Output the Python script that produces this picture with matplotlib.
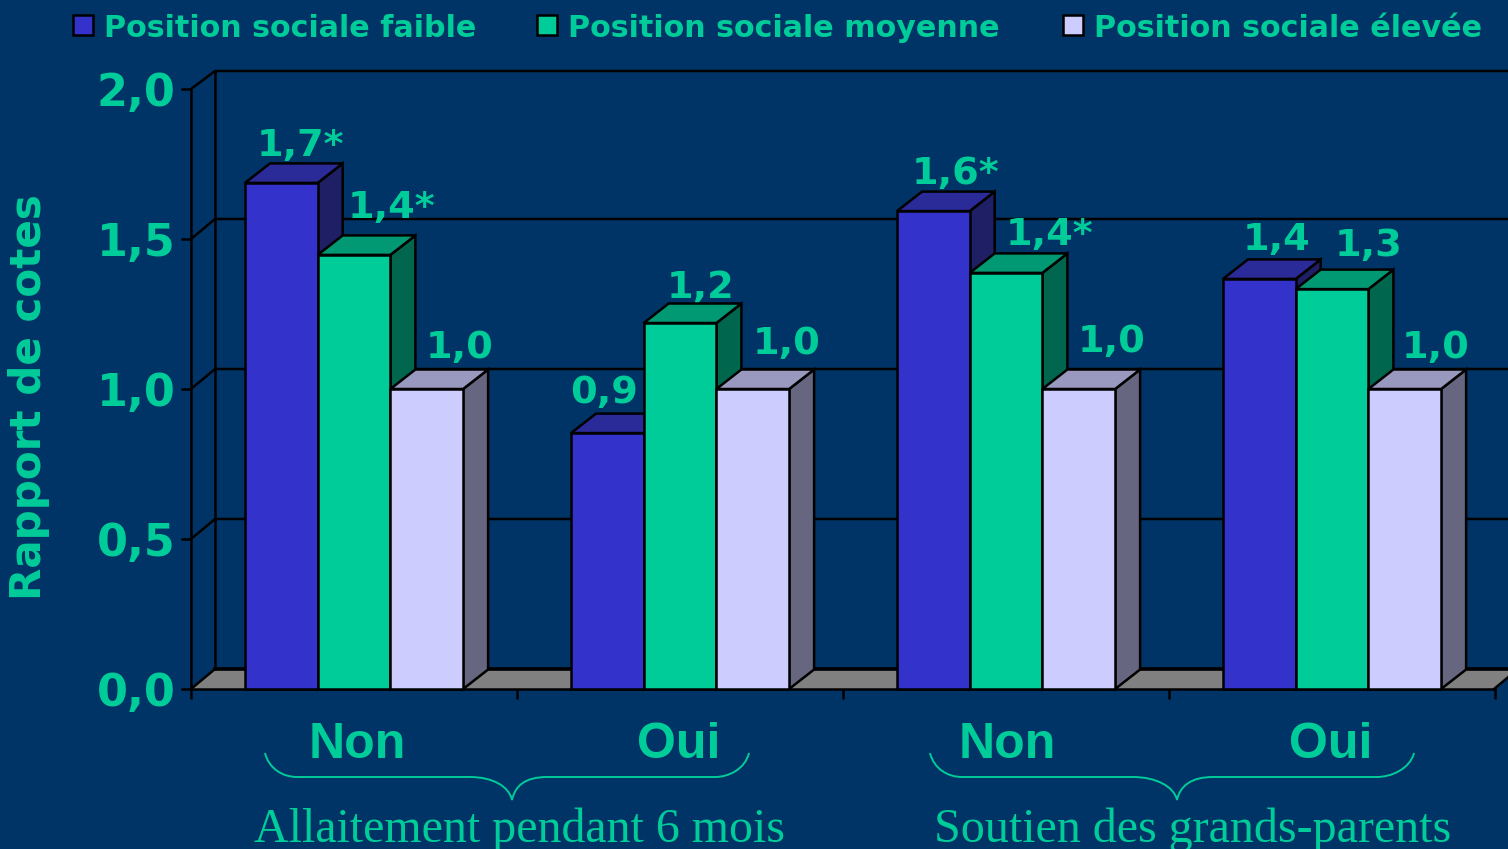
import matplotlib
matplotlib.use("Agg")
import matplotlib.pyplot as plt
import numpy as np
from matplotlib.patches import PathPatch, Polygon, Rectangle
from matplotlib.path import Path

W, H = 1508, 849
BG = "#003366"
TEAL = "#00CC99"

series_names = ["Position sociale faible", "Position sociale moyenne", "Position sociale élevée"]
groups = ["Non", "Oui", "Non", "Oui"]
faible = [1.687, 0.853, 1.593, 1.367]
moyenne = [1.447, 1.22, 1.387, 1.333]
elevee = [1.0, 1.0, 1.0, 1.0]
bar_labels = [
    ["1,7*", "0,9", "1,6*", "1,4"],
    ["1,4*", "1,2", "1,4*", "1,3"],
    ["1,0", "1,0", "1,0", "1,0"],
]
y_ticks = [0.0, 0.5, 1.0, 1.5, 2.0]
y_tick_labels = ["0,0", "0,5", "1,0", "1,5", "2,0"]

front_cols = ["#3333CC", "#00CC99", "#CCCCFF"]
top_cols = ["#2A2A99", "#009973", "#9999BF"]
side_cols = ["#1F1F66", "#00664D", "#666680"]

# label positions in pixels (centre x, baseline y)
label_pos = [
    [(300, 156), (604, 403), (956, 184), (1277, 250)],
    [(392, 218), (701, 298), (1050, 245), (1369, 256)],
    [(460, 358), (787, 354), (1112, 352), (1436, 358)],
]

PX_X = 326.0
PX_Y = 300.0
DX = 25 / PX_X
DY = 19.5 / PX_Y
BAR_W = 72.7 / PX_X
BAR_START = 54 / PX_X
LW = 1.8

fig = plt.figure(figsize=(W / 100, H / 100), dpi=100, facecolor=BG)
ax = fig.add_axes([191 / W, (H - 689) / H, 1304 / W, 600 / H])
ax.set_xlim(0, 4)
ax.set_ylim(0, 2)
ax.patch.set_alpha(0)
for s in ["top", "right"]:
    ax.spines[s].set_visible(False)
for s in ["left", "bottom"]:
    ax.spines[s].set_linewidth(LW)
    ax.spines[s].set_zorder(2)

ax.set_xticks(range(5))
ax.set_xticklabels([])
ax.set_yticks(y_ticks)
ax.set_yticklabels(y_tick_labels, family="DejaVu Sans", weight="bold", fontsize=32, color=TEAL)
ax.tick_params(axis="both", length=7, width=LW, color="black", pad=4)

# floor and back walls
wall_dx = 24 / PX_X
wall_dy = 20 / PX_Y
x_end = (W + 10 - 191) / PX_X
ax.add_patch(Polygon([(0, 0), (wall_dx, wall_dy), (x_end, wall_dy), (x_end - wall_dx, 0)],
                     facecolor="#808080", edgecolor="none", clip_on=False, zorder=1))
ax.plot([wall_dx, x_end], [wall_dy, wall_dy], color="black", lw=LW + 0.8, clip_on=False, zorder=1.5)
ax.plot([wall_dx, wall_dx], [wall_dy, 2 + 18 / PX_Y], color="black", lw=LW, clip_on=False, zorder=1.5)
ax.plot([0, wall_dx, x_end], [2, 2 + 18 / PX_Y, 2 + 18 / PX_Y], color="black", lw=LW, clip_on=False, zorder=1.5)
ax.plot([0, wall_dx], [0, wall_dy], color="black", lw=LW, clip_on=False, zorder=1.5)
ax.plot([x_end - wall_dx, x_end - wall_dx + wall_dx], [0, wall_dy], color="black", lw=LW, clip_on=False, zorder=1.5)
for v in y_ticks[1:-1]:
    ax.plot([0, wall_dx, x_end], [v, v + wall_dy, v + wall_dy], color="black", lw=LW, clip_on=False, zorder=1.5)

ov = fig.add_axes([0, 0, 1, 1])
ov.set_xlim(0, W)
ov.set_ylim(H, 0)
ov.axis("off")
ov.patch.set_alpha(0)
ov.set_zorder(3)

for j, vals in enumerate([faible, moyenne, elevee]):
    for i, v in enumerate(vals):
        x0 = i + BAR_START + j * BAR_W
        x1 = x0 + BAR_W
        ax.add_patch(Polygon([(x1, 0), (x1 + DX, DY), (x1 + DX, v + DY), (x1, v)],
                             facecolor=side_cols[j], edgecolor="black", lw=LW, clip_on=False, zorder=4 + j))
        ax.add_patch(Polygon([(x0, v), (x0 + DX, v + DY), (x1 + DX, v + DY), (x1, v)],
                             facecolor=top_cols[j], edgecolor="black", lw=LW, clip_on=False, zorder=4 + j))
        ax.bar(x0, v, BAR_W, align="edge", color=front_cols[j], edgecolor="black", lw=LW, clip_on=False, zorder=4 + j)

# value labels sit under the bars
for j in range(3):
    for i in range(4):
        px, py = label_pos[j][i]
        ax.text((px - 191) / PX_X, (689 - py) / PX_Y, bar_labels[j][i], family="DejaVu Sans", weight="bold",
                fontsize=27.5, color=TEAL, ha="center", va="baseline", zorder=3, clip_on=False)

# legend
for name, col, bx, tx, fs in zip(series_names, front_cols, [73, 537, 1063], [104, 568, 1094], [21.7, 21.7, 21.7]):
    ov.add_patch(Rectangle((bx, 15), 20, 20, facecolor=col, edgecolor="black", lw=LW))
    ov.text(tx, 37, name, family="DejaVu Sans", weight="bold", fontsize=fs, color=TEAL, ha="left", va="baseline")

ov.text(29, 397, "Rapport de cotes", family="DejaVu Sans", weight="bold", fontsize=30.3, color=TEAL,
        rotation=90, ha="center", va="center")

# category names and braces
for name, cx in zip(groups, [357, 679, 1007, 1331]):
    ov.text(cx, 758, name, family="Liberation Sans", weight="bold", fontsize=36, color=TEAL, ha="center", va="baseline")


def brace(left, mid, right, flat_l, flat_m1, flat_m2, flat_r):
    verts = [
        (left, 753), (left + 4, 769), (flat_l - 14, 777), (flat_l, 777),
        (flat_m1, 777),
        (flat_m1 + 22, 777), (mid - 3, 786), (mid, 800),
        (mid + 3, 786), (flat_m2 - 22, 777), (flat_m2, 777),
        (flat_r, 777),
        (flat_r + 14, 777), (right - 4, 769), (right, 753),
    ]
    codes = [Path.MOVETO, Path.CURVE4, Path.CURVE4, Path.CURVE4, Path.LINETO,
             Path.CURVE4, Path.CURVE4, Path.CURVE4, Path.CURVE4, Path.CURVE4, Path.CURVE4,
             Path.LINETO, Path.CURVE4, Path.CURVE4, Path.CURVE4]
    ov.add_patch(PathPatch(Path(verts, codes), facecolor="none", edgecolor=TEAL, lw=1.4))


brace(265, 512, 749, 297, 470, 547, 715)
brace(930, 1177, 1414, 962, 1133, 1213, 1377)

ov.text(520, 842, "Allaitement pendant 6 mois", family="Liberation Serif", fontsize=34.5, color=TEAL, ha="center", va="baseline")
ov.text(1193, 842, "Soutien des grands-parents", family="Liberation Serif", fontsize=34.6, color=TEAL, ha="center", va="baseline")

fig.savefig("out.png", dpi=100, facecolor=BG)
